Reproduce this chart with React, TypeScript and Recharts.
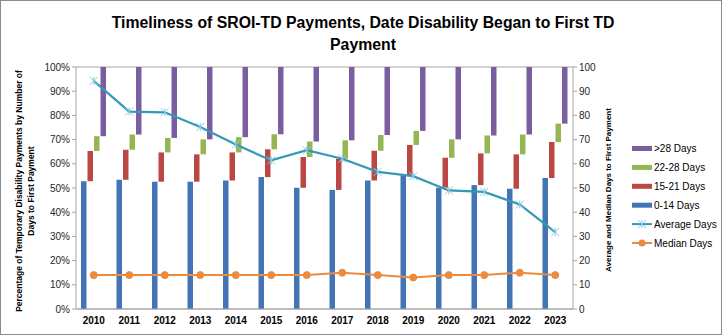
import React from 'react';
import {
  ComposedChart,
  Bar,
  Line,
  XAxis,
  YAxis,
  CartesianGrid,
} from 'recharts';

// years on the category axis
const years = ['2010', '2011', '2012', '2013', '2014', '2015', '2016', '2017', '2018', '2019', '2020', '2021', '2022', '2023'];

// share of payments (%) in each band
const days0to14 = [52.8, 53.4, 52.6, 52.6, 53.1, 54.5, 50.1, 49.2, 53.1, 55.3, 50.1, 51.2, 49.7, 54.1];
const days15to21 = [12.5, 12.4, 12.1, 11.3, 11.6, 11.5, 12.7, 12.9, 12.3, 12.5, 12.4, 13.1, 14.2, 14.9];
const days22to28 = [6.1, 6.3, 6.0, 6.2, 6.3, 6.2, 6.4, 7.6, 6.5, 5.8, 7.6, 7.4, 8.2, 7.6];

// average / median days (right axis)
const averageDays = [94.3, 81.6, 81.3, 75.2, 68.0, 61.4, 65.6, 62.1, 56.7, 54.9, 49.0, 48.4, 43.2, 31.8];
const medianDays = [14, 14, 14, 14, 14, 14, 14, 15, 14, 13, 14, 14, 15, 14];

const pctTicks = [0, 10, 20, 30, 40, 50, 60, 70, 80, 90, 100];
const dayTicks = [0, 10, 20, 30, 40, 50, 60, 70, 80, 90, 100];

// each band is drawn as a floating bar from its cumulative start to end
const chartData = years.map((year, i) => {
  const a = days0to14[i];
  const b = a + days15to21[i];
  const c = b + days22to28[i];
  return {
    year,
    d0: [0, a],
    d15: [a, b],
    d22: [b, c],
    d28: [c, 100],
    avg: averageDays[i],
    med: medianDays[i],
  };
});

const COLORS = {
  d0: '#4374b3',
  d15: '#bb4744',
  d22: '#94b653',
  d28: '#7a5e9f',
  avg: '#3599b6',
  avgMarker: '#86cde0',
  med: '#ec8a3e',
};

const FONT = "'Liberation Sans', Arial, sans-serif";

const StarDot = (props: any) => {
  const { cx, cy, index } = props;
  if (cx == null || cy == null) return <g key={index} />;
  const s = 4;
  return (
    <g key={index} stroke={COLORS.avgMarker} strokeWidth={1}>
      <line x1={cx} y1={cy - s} x2={cx} y2={cy + s} />
      <line x1={cx - s} y1={cy - s} x2={cx + s} y2={cy + s} />
      <line x1={cx - s} y1={cy + s} x2={cx + s} y2={cy - s} />
    </g>
  );
};

const legendItems = [
  { label: '>28 Days', color: COLORS.d28, kind: 'bar' },
  { label: '22-28 Days', color: COLORS.d22, kind: 'bar' },
  { label: '15-21 Days', color: COLORS.d15, kind: 'bar' },
  { label: '0-14 Days', color: COLORS.d0, kind: 'bar' },
  { label: 'Average Days', color: COLORS.avg, kind: 'star' },
  { label: 'Median Days', color: COLORS.med, kind: 'dot' },
];

export default function App() {
  return (
    <div style={{ position: 'absolute', left: 0, top: 0, width: 722, height: 336, background: '#fff' }}>
      <ComposedChart
        width={722}
        height={336}
        data={chartData}
        margin={{ top: 67, right: 109, bottom: 0, left: 36 }}
        barGap={1}
        barCategoryGap="14%"
      >
        <CartesianGrid vertical={false} stroke="#a6a6a6" />
        <XAxis
          dataKey="year"
          height={27}
          tickLine={false}
          axisLine={{ stroke: '#a6a6a6' }}
          tick={{ fontSize: 10, fontWeight: 700, fill: '#000', fontFamily: FONT }}
          interval={0}
        />
        <YAxis
          yAxisId="left"
          width={40}
          domain={[0, 100]}
          ticks={pctTicks}
          tickFormatter={(v: number) => `${v}%`}
          axisLine={{ stroke: '#a6a6a6' }}
          tickLine={{ stroke: '#a6a6a6' }}
          tickSize={4}
          tick={{ fontSize: 10, fill: '#262626', fontFamily: FONT }}
        />
        <YAxis
          yAxisId="right"
          orientation="right"
          width={40}
          domain={[0, 100]}
          ticks={dayTicks}
          axisLine={{ stroke: '#a6a6a6' }}
          tickLine={{ stroke: '#a6a6a6' }}
          tickSize={4}
          tick={{ fontSize: 10, fill: '#262626', fontFamily: FONT, textAnchor: 'start' }}
        />
        <Bar yAxisId="left" dataKey="d0" fill={COLORS.d0} barSize={5.5} isAnimationActive={false} />
        <Bar yAxisId="left" dataKey="d15" fill={COLORS.d15} barSize={5.5} isAnimationActive={false} />
        <Bar yAxisId="left" dataKey="d22" fill={COLORS.d22} barSize={5.5} isAnimationActive={false} />
        <Bar yAxisId="left" dataKey="d28" fill={COLORS.d28} barSize={5.5} isAnimationActive={false} />
        <Line
          yAxisId="right"
          dataKey="avg"
          stroke={COLORS.avg}
          strokeWidth={2.25}
          dot={<StarDot />}
          isAnimationActive={false}
        />
        <Line
          yAxisId="right"
          dataKey="med"
          stroke={COLORS.med}
          strokeWidth={2}
          dot={{ r: 3.5, fill: COLORS.med, stroke: COLORS.med, strokeWidth: 1 }}
          isAnimationActive={false}
        />
      </ComposedChart>

      <svg
        width={722}
        height={336}
        style={{ position: 'absolute', left: 0, top: 0, pointerEvents: 'none' }}
      >
        <text x={363} y={28} textAnchor="middle" fontSize={15.8} fontWeight={700} fontFamily={FONT} fill="#000">
          Timeliness of SROI-TD Payments, Date Disability Began to First TD
        </text>
        <text x={363} y={50} textAnchor="middle" fontSize={15.8} fontWeight={700} fontFamily={FONT} fill="#000">
          Payment
        </text>

        <g fontSize={8.5} fontWeight={700} fontFamily={FONT} fill="#000" textAnchor="middle">
          <text transform="translate(22,191) rotate(-90)">
            Percentage of Temporary Disability Payments  by Number of
          </text>
          <text transform="translate(34,191) rotate(-90)">Days to First Payment</text>
        </g>
        <g fontSize={8} fontWeight={700} fontFamily={FONT} fill="#000" textAnchor="middle">
          <text transform="translate(611,190) rotate(-90)">Average and Median  Days to First Payment</text>
        </g>

        <g fontSize={10} fontFamily={FONT} fill="#000">
          {legendItems.map((it, i) => {
            const y = 148.5 + i * 18.9;
            return (
              <g key={it.label}>
                {it.kind === 'bar' ? (
                  <rect x={632} y={y - 2.5} width={20} height={5} fill={it.color} />
                ) : (
                  <line x1={632} y1={y} x2={652} y2={y} stroke={it.color} strokeWidth={2} />
                )}
                {it.kind === 'star' && (
                  <g stroke={COLORS.avgMarker} strokeWidth={1}>
                    <line x1={642} y1={y - 4} x2={642} y2={y + 4} />
                    <line x1={638} y1={y - 4} x2={646} y2={y + 4} />
                    <line x1={638} y1={y + 4} x2={646} y2={y - 4} />
                  </g>
                )}
                {it.kind === 'dot' && <circle cx={642} cy={y} r={3.5} fill={it.color} />}
                <text x={654} y={y + 3.5}>{it.label}</text>
              </g>
            );
          })}
        </g>

        <rect x={0.5} y={0.5} width={721} height={334} fill="none" stroke="#8c8c8c" strokeWidth={1} />
      </svg>
    </div>
  );
}
